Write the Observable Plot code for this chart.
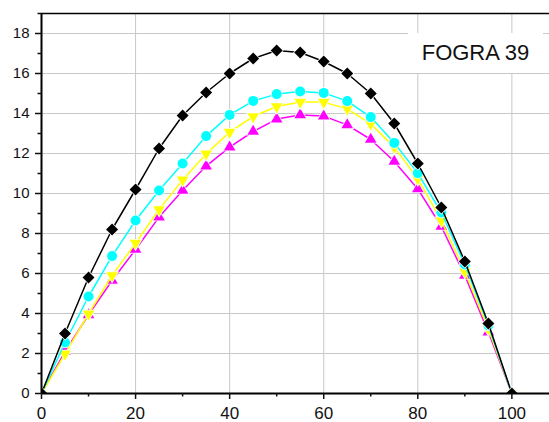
<!DOCTYPE html>
<html>
<head>
<meta charset="utf-8">
<script src="https://cdn.jsdelivr.net/npm/d3@7"></script>
<script src="https://cdn.jsdelivr.net/npm/@observablehq/plot@0.6"></script>
<style>
  body { margin: 0; background: #fff; }
  #wrap { position: relative; width: 549px; height: 422px; }
  #legend {
    position: absolute; left: 408px; top: 33px; width: 135px; height: 40px;
    background: #fff; font: 22px "Liberation Sans", Arial, sans-serif;
    line-height: 40px; text-align: center; color: #111;
  }
</style>
</head>
<body>
<div id="wrap"><div id="legend">FOGRA 39</div></div>
<script>
const xs = [0, 5, 10, 15, 20, 25, 30, 35, 40, 45, 50, 55, 60, 65, 70, 75, 80, 85, 90, 95, 100];
const black   = [0, 3.0, 5.8, 8.2, 10.2, 12.25, 13.9, 15.05, 16.0, 16.75, 17.15, 17.05, 16.6, 16.0, 15.0, 13.5, 11.5, 9.3, 6.6, 3.5, 0];
const cyan    = [0, 2.55, 4.85, 6.87, 8.65, 10.15, 11.5, 12.87, 13.93, 14.63, 14.97, 15.1, 15.03, 14.62, 13.82, 12.53, 11.02, 9.05, 6.45, 3.4, 0];
const yellow  = [0, 1.98, 3.98, 5.9, 7.52, 9.2, 10.68, 11.98, 13.07, 13.85, 14.35, 14.57, 14.57, 14.23, 13.48, 12.32, 10.73, 8.65, 6.1, 3.23, 0];
const magenta = [0, 2.1, 3.93, 5.65, 7.2, 8.82, 10.15, 11.37, 12.32, 13.1, 13.72, 13.93, 13.87, 13.43, 12.7, 11.6, 10.23, 8.35, 5.9, 3.07, 0];
const xMajor = [0, 20, 40, 60, 80, 100];
const xMinor = [10, 30, 50, 70, 90];
const yMajor = [0, 2, 4, 6, 8, 10, 12, 14, 16, 18];
const yMinor = [1, 3, 5, 7, 9, 11, 13, 15, 17, 19];
const legendLabel = "FOGRA 39";

const rows = ys => xs.map((x, i) => ({x, y: ys[i]}));

const triDown = {
  draw(ctx, size) {
    const y = -Math.sqrt(size / (3 * Math.sqrt(3)));
    const x = Math.sqrt(3) * y;
    ctx.moveTo(0, -2 * y);
    ctx.lineTo(x, y);
    ctx.lineTo(-x, y);
    ctx.closePath();
  }
};

const series = [
  {data: magenta, color: "#ff00ff", symbol: "triangle", r: 4.3},
  {data: yellow,  color: "#ffff00", symbol: triDown,    r: 4.3},
  {data: cyan,    color: "#00ffff", symbol: "circle",   r: 5},
  {data: black,   color: "#000000", symbol: "diamond2", r: 5.4}
];

const marks = [
  Plot.gridX(xMajor.filter(d => d > 0), {stroke: "#c8c8c8", strokeOpacity: 1, strokeWidth: 1}),
  Plot.gridY(yMajor.filter(d => d > 0), {stroke: "#c8c8c8", strokeOpacity: 1, strokeWidth: 1})
];
for (const s of series) {
  const d = rows(s.data);
  marks.push(Plot.line(d, {x: "x", y: "y", stroke: s.color, strokeWidth: 1.5, clip: true}));
  marks.push(Plot.dot(d, {x: "x", y: "y", symbol: s.symbol, r: s.r, fill: s.color,
    stroke: "white", strokeWidth: 1.5, paintOrder: "stroke", clip: true}));
}
marks.push(
  Plot.ruleY([19], {stroke: "black", strokeWidth: 1.5}),
  Plot.ruleX([0], {stroke: "black", strokeWidth: 2}),
  Plot.ruleY([0], {stroke: "black", strokeWidth: 2}),
  Plot.axisX(xMajor, {label: null, tickSize: 6, tickPadding: 7, fontSize: 17, strokeWidth: 1.5, tickFormat: d => String(d)}),
  Plot.axisX(xMinor, {label: null, tickSize: 3.5, strokeWidth: 1.5, tickFormat: () => ""}),
  Plot.axisY(yMajor, {label: null, tickSize: 6, tickPadding: 6, fontSize: 15, strokeWidth: 1.5, tickFormat: d => String(d)}),
  Plot.axisY(yMinor, {label: null, tickSize: 3.5, strokeWidth: 1.5, tickFormat: () => ""})
);

const chart = Plot.plot({
  width: 549,
  height: 422,
  marginLeft: 41,
  marginRight: 0,
  marginTop: 13,
  marginBottom: 29,
  x: {domain: [0, 108], label: null},
  y: {domain: [0, 19], label: null},
  style: {fontFamily: '"Liberation Sans", Arial, sans-serif', color: "#111", background: "white"},
  marks
});
const wrap = document.getElementById("wrap");
wrap.insertBefore(chart, wrap.firstChild);
document.getElementById("legend").textContent = legendLabel;
</script>
</body>
</html>
